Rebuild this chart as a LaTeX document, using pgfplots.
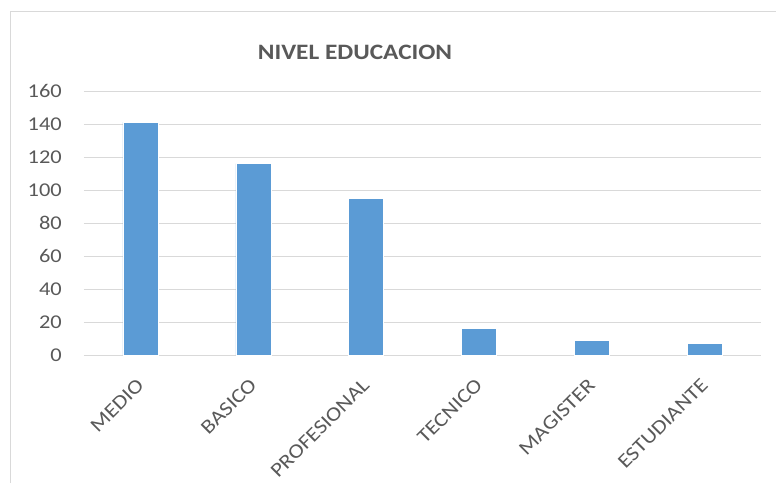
\documentclass[border=0pt]{standalone}
\usepackage{fontspec}
\setmainfont[FakeStretch=1.15]{Carlito}
\usepackage{pgfplots}
\pgfplotsset{compat=1.18}
\definecolor{barblue}{HTML}{5B9BD5}
\definecolor{txt}{HTML}{595959}
\definecolor{gridc}{HTML}{D9D9D9}
\begin{document}
\begin{tikzpicture}[x=1pt,y=1pt]
\path[use as bounding box] (0,0) rectangle (776,483);
\draw[gridc, line width=1pt] (10,0) -- (10,471) -- (776,471);
\node[text=txt, font=\fontsize{22}{22}\selectfont\bfseries] at (355,431) {NIVEL EDUCACION};
\begin{axis}[
  at={(84pt,128pt)}, anchor=south west,
  scale only axis, width=677pt, height=264pt,
  xmin=-0.5, xmax=5.5, ymin=0, ymax=160,
  ytick={0,20,...,160},
  xtick={0,...,5},
  xticklabels={MEDIO,BASICO,PROFESIONAL,TECNICO,MAGISTER,ESTUDIANTE},
  axis line style={draw=none},
  major tick length=0pt,
  ymajorgrids, grid style={gridc, line width=1pt},
  ybar, bar width=35pt, bar shift=0pt,
  /pgf/number format/assume math mode=true,
  yticklabel style={font=\fontsize{19.5}{19.5}\selectfont, text=txt, inner sep=0pt, xshift=-22pt},
  xticklabel style={font=\fontsize{20}{20}\selectfont, text=txt, rotate=45, anchor=east, inner sep=0pt, yshift=-19pt, xshift=-19pt},
]
\addplot[fill=barblue, draw=white, line width=0.5pt] coordinates {(0,141) (1,116) (2,95) (3,16) (4,9) (5,7)};
\end{axis}
\end{tikzpicture}
\end{document}
